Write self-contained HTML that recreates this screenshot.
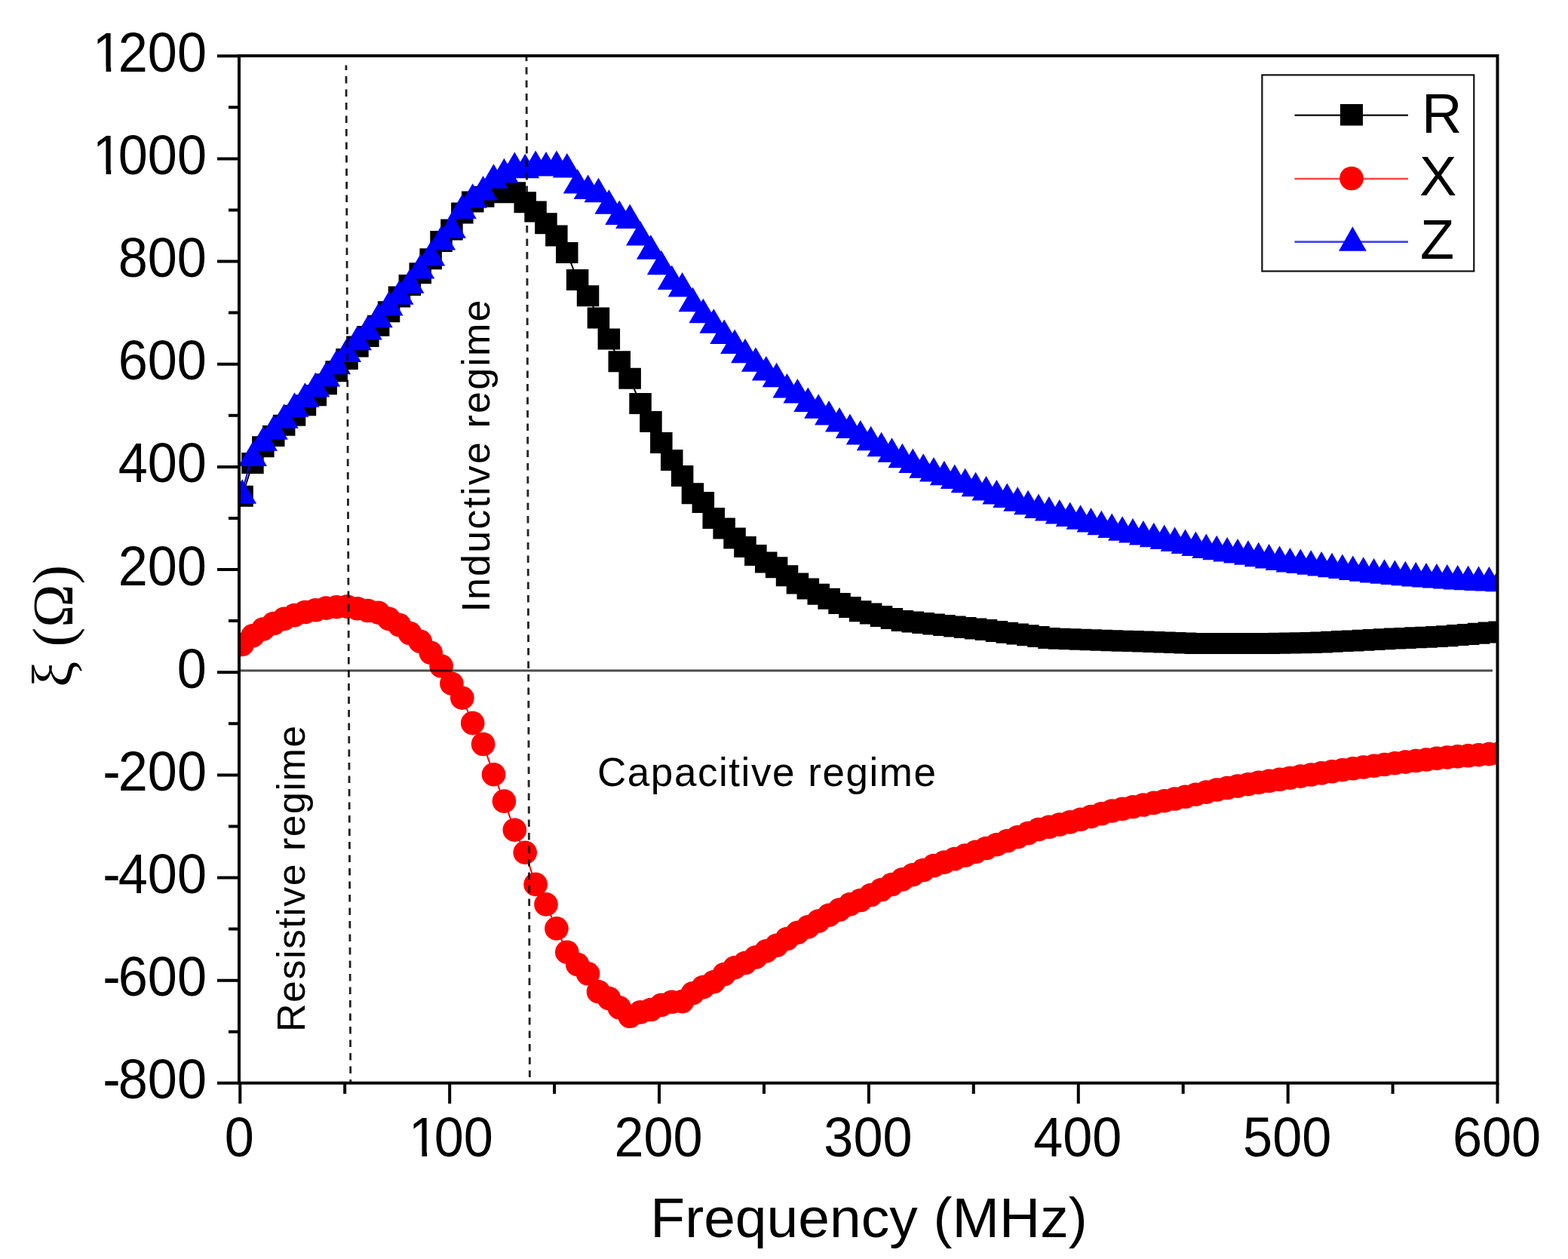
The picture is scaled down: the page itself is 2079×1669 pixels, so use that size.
<!DOCTYPE html>
<html><head><meta charset="utf-8"><title>Impedance vs Frequency</title>
<style>
html,body{margin:0;padding:0;background:#fff;}
svg{display:block;}
text{font-family:"Liberation Sans",Arial,Helvetica,sans-serif;fill:#000;}
.ser{font-family:"Liberation Serif","Times New Roman",serif;}
</style></head><body>
<svg width="2079" height="1669" viewBox="0 0 2079 1669">
<rect width="2079" height="1669" fill="#fff"/>

<defs><clipPath id="pc"><rect x="317" y="74" width="1668.5" height="1361.7"/></clipPath></defs>
<g clip-path="url(#pc)">
<polyline points="321.1,657.7 335,614.1 348.9,592.3 362.8,578 376.7,563.7 390.5,550.8 404.4,537.2 418.3,524.2 432.2,509.3 446.1,492.3 460,475.9 473.9,459.6 487.8,446 501.7,431.7 515.6,413.3 529.5,393.5 543.4,377.9 557.3,362.2 571.2,343.2 585.1,320 598.9,304.4 612.8,282.6 626.7,267.6 640.6,260.8 654.5,254.7 668.4,255.3 682.3,255.3 696.2,268.3 710.1,280.5 724,296.2 737.9,312.5 751.8,335 765.7,371.1 779.6,392.2 793.5,421.4 807.4,449.4 821.2,479.3 835.1,501.8 849,535.1 862.9,559 876.8,586.9 890.7,610 904.6,631.1 918.5,654.3 932.4,665.9 946.3,687 960.2,700.6 974.1,713.5 988,725.1 1001.9,736 1015.8,745.5 1029.6,752.3 1043.5,763.2 1057.4,773.4 1071.3,780.6 1085.2,787.7 1099.1,793.8 1113,800 1126.9,805.1 1140.8,810.2 1154.7,813.6 1168.6,817 1182.5,820.1 1196.4,823.1 1210.3,824.6 1224.2,826.1 1238,827.5 1251.9,829 1265.8,830.5 1279.7,832 1293.6,833.4 1307.5,835.1 1321.4,836.9 1335.3,838.7 1349.2,840.5 1363.1,842.3 1377,844.1 1390.9,845.9 1404.8,846.7 1418.7,847.2 1432.6,847.7 1446.5,848.2 1460.3,848.7 1474.2,849.2 1488.1,849.7 1502,850.1 1515.9,850.6 1529.8,851.1 1543.7,851.5 1557.6,852 1571.5,852.4 1585.4,852.9 1599.3,853.1 1613.2,853.1 1627.1,853.1 1641,853.1 1654.9,853.1 1668.7,853.1 1682.6,853 1696.5,852.7 1710.4,852.5 1724.3,852.2 1738.2,851.9 1752.1,851.6 1766,850.8 1779.9,850.1 1793.8,849.4 1807.7,848.7 1821.6,848 1835.5,847.2 1849.4,846.6 1863.3,845.9 1877.2,845.3 1891,844.7 1904.9,844 1918.8,843.3 1932.7,842.1 1946.6,841 1960.5,839.8 1974.4,838.6 1988.3,837.4" fill="none" stroke="#000" stroke-width="2"/>
<path d="M306.3 643.7h29.5v28h-29.5zM320.2 600.1h29.5v28h-29.5zM334.1 578.3h29.5v28h-29.5zM348 564h29.5v28h-29.5zM361.9 549.7h29.5v28h-29.5zM375.8 536.8h29.5v28h-29.5zM389.7 523.2h29.5v28h-29.5zM403.6 510.2h29.5v28h-29.5zM417.5 495.3h29.5v28h-29.5zM431.4 478.3h29.5v28h-29.5zM445.3 461.9h29.5v28h-29.5zM459.2 445.6h29.5v28h-29.5zM473.1 432h29.5v28h-29.5zM486.9 417.7h29.5v28h-29.5zM500.8 399.3h29.5v28h-29.5zM514.7 379.5h29.5v28h-29.5zM528.6 363.9h29.5v28h-29.5zM542.5 348.2h29.5v28h-29.5zM556.4 329.2h29.5v28h-29.5zM570.3 306h29.5v28h-29.5zM584.2 290.4h29.5v28h-29.5zM598.1 268.6h29.5v28h-29.5zM612 253.6h29.5v28h-29.5zM625.9 246.8h29.5v28h-29.5zM639.8 240.7h29.5v28h-29.5zM653.7 241.3h29.5v28h-29.5zM667.6 241.3h29.5v28h-29.5zM681.5 254.3h29.5v28h-29.5zM695.3 266.5h29.5v28h-29.5zM709.2 282.2h29.5v28h-29.5zM723.1 298.5h29.5v28h-29.5zM737 321h29.5v28h-29.5zM750.9 357.1h29.5v28h-29.5zM764.8 378.2h29.5v28h-29.5zM778.7 407.4h29.5v28h-29.5zM792.6 435.4h29.5v28h-29.5zM806.5 465.3h29.5v28h-29.5zM820.4 487.8h29.5v28h-29.5zM834.3 521.1h29.5v28h-29.5zM848.2 545h29.5v28h-29.5zM862.1 572.9h29.5v28h-29.5zM876 596h29.5v28h-29.5zM889.9 617.1h29.5v28h-29.5zM903.7 640.3h29.5v28h-29.5zM917.6 651.9h29.5v28h-29.5zM931.5 673h29.5v28h-29.5zM945.4 686.6h29.5v28h-29.5zM959.3 699.5h29.5v28h-29.5zM973.2 711.1h29.5v28h-29.5zM987.1 722h29.5v28h-29.5zM1001 731.5h29.5v28h-29.5zM1014.9 738.3h29.5v28h-29.5zM1028.8 749.2h29.5v28h-29.5zM1042.7 759.4h29.5v28h-29.5zM1056.6 766.6h29.5v28h-29.5zM1070.5 773.7h29.5v28h-29.5zM1084.4 779.8h29.5v28h-29.5zM1098.3 786h29.5v28h-29.5zM1112.2 791.1h29.5v28h-29.5zM1126 796.2h29.5v28h-29.5zM1139.9 799.6h29.5v28h-29.5zM1153.8 803h29.5v28h-29.5zM1167.7 806.1h29.5v28h-29.5zM1181.6 809.1h29.5v28h-29.5zM1195.5 810.6h29.5v28h-29.5zM1209.4 812.1h29.5v28h-29.5zM1223.3 813.5h29.5v28h-29.5zM1237.2 815h29.5v28h-29.5zM1251.1 816.5h29.5v28h-29.5zM1265 818h29.5v28h-29.5zM1278.9 819.4h29.5v28h-29.5zM1292.8 821.1h29.5v28h-29.5zM1306.7 822.9h29.5v28h-29.5zM1320.6 824.7h29.5v28h-29.5zM1334.4 826.5h29.5v28h-29.5zM1348.3 828.3h29.5v28h-29.5zM1362.2 830.1h29.5v28h-29.5zM1376.1 831.9h29.5v28h-29.5zM1390 832.7h29.5v28h-29.5zM1403.9 833.2h29.5v28h-29.5zM1417.8 833.7h29.5v28h-29.5zM1431.7 834.2h29.5v28h-29.5zM1445.6 834.7h29.5v28h-29.5zM1459.5 835.2h29.5v28h-29.5zM1473.4 835.7h29.5v28h-29.5zM1487.3 836.1h29.5v28h-29.5zM1501.2 836.6h29.5v28h-29.5zM1515.1 837.1h29.5v28h-29.5zM1529 837.5h29.5v28h-29.5zM1542.9 838h29.5v28h-29.5zM1556.7 838.4h29.5v28h-29.5zM1570.6 838.9h29.5v28h-29.5zM1584.5 839.1h29.5v28h-29.5zM1598.4 839.1h29.5v28h-29.5zM1612.3 839.1h29.5v28h-29.5zM1626.2 839.1h29.5v28h-29.5zM1640.1 839.1h29.5v28h-29.5zM1654 839.1h29.5v28h-29.5zM1667.9 839h29.5v28h-29.5zM1681.8 838.7h29.5v28h-29.5zM1695.7 838.5h29.5v28h-29.5zM1709.6 838.2h29.5v28h-29.5zM1723.5 837.9h29.5v28h-29.5zM1737.4 837.6h29.5v28h-29.5zM1751.3 836.8h29.5v28h-29.5zM1765.1 836.1h29.5v28h-29.5zM1779 835.4h29.5v28h-29.5zM1792.9 834.7h29.5v28h-29.5zM1806.8 834h29.5v28h-29.5zM1820.7 833.2h29.5v28h-29.5zM1834.6 832.6h29.5v28h-29.5zM1848.5 831.9h29.5v28h-29.5zM1862.4 831.3h29.5v28h-29.5zM1876.3 830.7h29.5v28h-29.5zM1890.2 830h29.5v28h-29.5zM1904.1 829.3h29.5v28h-29.5zM1918 828.1h29.5v28h-29.5zM1931.9 827h29.5v28h-29.5zM1945.8 825.8h29.5v28h-29.5zM1959.7 824.6h29.5v28h-29.5zM1973.5 823.4h29.5v28h-29.5z" fill="#000"/>
<polyline points="321.1,854.4 335,842.9 348.9,834 362.8,826.5 376.7,820.4 390.5,815.6 404.4,811.5 418.3,808.8 432.2,806.1 446.1,804.7 460,804.1 473.9,806.8 487.8,809.5 501.7,812.2 515.6,820.4 529.5,828.6 543.4,839.5 557.3,850.4 571.2,865.3 585.1,883 598.9,906.2 612.8,925.2 626.7,958.6 640.6,986.5 654.5,1026.7 668.4,1062.1 682.3,1100.2 696.2,1130.2 710.1,1172.4 724,1198.9 737.9,1230.9 751.8,1262.2 765.7,1278.6 779.6,1290.8 793.5,1314.7 807.4,1323.5 821.2,1335.8 835.1,1347.3 849,1341.9 862.9,1338.5 876.8,1332.4 890.7,1328.3 904.6,1327.6 918.5,1316.7 932.4,1308.5 946.3,1301.7 960.2,1291.5 974.1,1282.7 988,1276.5 1001.9,1269 1015.8,1260.9 1029.6,1253.4 1043.5,1244.5 1057.4,1236.4 1071.3,1228.9 1085.2,1221 1099.1,1213.2 1113,1206.1 1126.9,1198.9 1140.8,1193.5 1154.7,1186.5 1168.6,1179.5 1182.5,1172.5 1196.4,1165.9 1210.3,1159.7 1224.2,1153.5 1238,1147.6 1251.9,1143.1 1265.8,1138.6 1279.7,1134 1293.6,1129.3 1307.5,1124.5 1321.4,1119.7 1335.3,1114.8 1349.2,1109.7 1363.1,1104.6 1377,1099.5 1390.9,1096.3 1404.8,1093.1 1418.7,1089.9 1432.6,1086.4 1446.5,1082.6 1460.3,1078.8 1474.2,1075 1488.1,1072.4 1502,1069.7 1515.9,1067 1529.8,1064.4 1543.7,1061.7 1557.6,1059 1571.5,1056.3 1585.4,1053.2 1599.3,1050.1 1613.2,1047 1627.1,1044.5 1641,1042.1 1654.9,1039.7 1668.7,1037.4 1682.6,1035.3 1696.5,1033.3 1710.4,1031.2 1724.3,1029.1 1738.2,1027 1752.1,1024.9 1766,1022.8 1779.9,1020.7 1793.8,1018.8 1807.7,1017 1821.6,1015.3 1835.5,1013.5 1849.4,1011.7 1863.3,1010.1 1877.2,1008.5 1891,1007 1904.9,1005.4 1918.8,1004 1932.7,1002.9 1946.6,1001.8 1960.5,1000.7 1974.4,999.6 1988.3,998.9" fill="none" stroke="#f00" stroke-width="2"/>
<g fill="#f00"><circle cx="321.1" cy="854.4" r="15.8"/><circle cx="335" cy="842.9" r="15.8"/><circle cx="348.9" cy="834" r="15.8"/><circle cx="362.8" cy="826.5" r="15.8"/><circle cx="376.7" cy="820.4" r="15.8"/><circle cx="390.5" cy="815.6" r="15.8"/><circle cx="404.4" cy="811.5" r="15.8"/><circle cx="418.3" cy="808.8" r="15.8"/><circle cx="432.2" cy="806.1" r="15.8"/><circle cx="446.1" cy="804.7" r="15.8"/><circle cx="460" cy="804.1" r="15.8"/><circle cx="473.9" cy="806.8" r="15.8"/><circle cx="487.8" cy="809.5" r="15.8"/><circle cx="501.7" cy="812.2" r="15.8"/><circle cx="515.6" cy="820.4" r="15.8"/><circle cx="529.5" cy="828.6" r="15.8"/><circle cx="543.4" cy="839.5" r="15.8"/><circle cx="557.3" cy="850.4" r="15.8"/><circle cx="571.2" cy="865.3" r="15.8"/><circle cx="585.1" cy="883" r="15.8"/><circle cx="598.9" cy="906.2" r="15.8"/><circle cx="612.8" cy="925.2" r="15.8"/><circle cx="626.7" cy="958.6" r="15.8"/><circle cx="640.6" cy="986.5" r="15.8"/><circle cx="654.5" cy="1026.7" r="15.8"/><circle cx="668.4" cy="1062.1" r="15.8"/><circle cx="682.3" cy="1100.2" r="15.8"/><circle cx="696.2" cy="1130.2" r="15.8"/><circle cx="710.1" cy="1172.4" r="15.8"/><circle cx="724" cy="1198.9" r="15.8"/><circle cx="737.9" cy="1230.9" r="15.8"/><circle cx="751.8" cy="1262.2" r="15.8"/><circle cx="765.7" cy="1278.6" r="15.8"/><circle cx="779.6" cy="1290.8" r="15.8"/><circle cx="793.5" cy="1314.7" r="15.8"/><circle cx="807.4" cy="1323.5" r="15.8"/><circle cx="821.2" cy="1335.8" r="15.8"/><circle cx="835.1" cy="1347.3" r="15.8"/><circle cx="849" cy="1341.9" r="15.8"/><circle cx="862.9" cy="1338.5" r="15.8"/><circle cx="876.8" cy="1332.4" r="15.8"/><circle cx="890.7" cy="1328.3" r="15.8"/><circle cx="904.6" cy="1327.6" r="15.8"/><circle cx="918.5" cy="1316.7" r="15.8"/><circle cx="932.4" cy="1308.5" r="15.8"/><circle cx="946.3" cy="1301.7" r="15.8"/><circle cx="960.2" cy="1291.5" r="15.8"/><circle cx="974.1" cy="1282.7" r="15.8"/><circle cx="988" cy="1276.5" r="15.8"/><circle cx="1001.9" cy="1269" r="15.8"/><circle cx="1015.8" cy="1260.9" r="15.8"/><circle cx="1029.6" cy="1253.4" r="15.8"/><circle cx="1043.5" cy="1244.5" r="15.8"/><circle cx="1057.4" cy="1236.4" r="15.8"/><circle cx="1071.3" cy="1228.9" r="15.8"/><circle cx="1085.2" cy="1221" r="15.8"/><circle cx="1099.1" cy="1213.2" r="15.8"/><circle cx="1113" cy="1206.1" r="15.8"/><circle cx="1126.9" cy="1198.9" r="15.8"/><circle cx="1140.8" cy="1193.5" r="15.8"/><circle cx="1154.7" cy="1186.5" r="15.8"/><circle cx="1168.6" cy="1179.5" r="15.8"/><circle cx="1182.5" cy="1172.5" r="15.8"/><circle cx="1196.4" cy="1165.9" r="15.8"/><circle cx="1210.3" cy="1159.7" r="15.8"/><circle cx="1224.2" cy="1153.5" r="15.8"/><circle cx="1238" cy="1147.6" r="15.8"/><circle cx="1251.9" cy="1143.1" r="15.8"/><circle cx="1265.8" cy="1138.6" r="15.8"/><circle cx="1279.7" cy="1134" r="15.8"/><circle cx="1293.6" cy="1129.3" r="15.8"/><circle cx="1307.5" cy="1124.5" r="15.8"/><circle cx="1321.4" cy="1119.7" r="15.8"/><circle cx="1335.3" cy="1114.8" r="15.8"/><circle cx="1349.2" cy="1109.7" r="15.8"/><circle cx="1363.1" cy="1104.6" r="15.8"/><circle cx="1377" cy="1099.5" r="15.8"/><circle cx="1390.9" cy="1096.3" r="15.8"/><circle cx="1404.8" cy="1093.1" r="15.8"/><circle cx="1418.7" cy="1089.9" r="15.8"/><circle cx="1432.6" cy="1086.4" r="15.8"/><circle cx="1446.5" cy="1082.6" r="15.8"/><circle cx="1460.3" cy="1078.8" r="15.8"/><circle cx="1474.2" cy="1075" r="15.8"/><circle cx="1488.1" cy="1072.4" r="15.8"/><circle cx="1502" cy="1069.7" r="15.8"/><circle cx="1515.9" cy="1067" r="15.8"/><circle cx="1529.8" cy="1064.4" r="15.8"/><circle cx="1543.7" cy="1061.7" r="15.8"/><circle cx="1557.6" cy="1059" r="15.8"/><circle cx="1571.5" cy="1056.3" r="15.8"/><circle cx="1585.4" cy="1053.2" r="15.8"/><circle cx="1599.3" cy="1050.1" r="15.8"/><circle cx="1613.2" cy="1047" r="15.8"/><circle cx="1627.1" cy="1044.5" r="15.8"/><circle cx="1641" cy="1042.1" r="15.8"/><circle cx="1654.9" cy="1039.7" r="15.8"/><circle cx="1668.7" cy="1037.4" r="15.8"/><circle cx="1682.6" cy="1035.3" r="15.8"/><circle cx="1696.5" cy="1033.3" r="15.8"/><circle cx="1710.4" cy="1031.2" r="15.8"/><circle cx="1724.3" cy="1029.1" r="15.8"/><circle cx="1738.2" cy="1027" r="15.8"/><circle cx="1752.1" cy="1024.9" r="15.8"/><circle cx="1766" cy="1022.8" r="15.8"/><circle cx="1779.9" cy="1020.7" r="15.8"/><circle cx="1793.8" cy="1018.8" r="15.8"/><circle cx="1807.7" cy="1017" r="15.8"/><circle cx="1821.6" cy="1015.3" r="15.8"/><circle cx="1835.5" cy="1013.5" r="15.8"/><circle cx="1849.4" cy="1011.7" r="15.8"/><circle cx="1863.3" cy="1010.1" r="15.8"/><circle cx="1877.2" cy="1008.5" r="15.8"/><circle cx="1891" cy="1007" r="15.8"/><circle cx="1904.9" cy="1005.4" r="15.8"/><circle cx="1918.8" cy="1004" r="15.8"/><circle cx="1932.7" cy="1002.9" r="15.8"/><circle cx="1946.6" cy="1001.8" r="15.8"/><circle cx="1960.5" cy="1000.7" r="15.8"/><circle cx="1974.4" cy="999.6" r="15.8"/><circle cx="1988.3" cy="998.9" r="15.8"/></g>
<polyline points="321.1,651.6 335,601.9 348.9,581.4 362.8,566.5 376.7,551.5 390.5,536.5 404.4,523.6 418.3,510 432.2,496.3 446.1,480 460,463.7 473.9,448 487.8,434.4 501.7,418 515.6,402.4 529.5,387.4 543.4,372.4 557.3,353.4 571.2,336.3 585.1,315.2 598.9,299.6 612.8,273.7 626.7,259.4 640.6,249.2 654.5,233.5 668.4,226.1 682.3,217.9 696.2,219.9 710.1,215.8 724,217.2 737.9,215.8 751.8,219.3 765.7,240.4 779.6,247.8 793.5,251.9 807.4,267.6 821.2,281.9 835.1,286.6 849,309.1 862.9,327.5 876.8,347.9 890.7,367.7 904.6,377.2 918.5,396.9 932.4,411.9 946.3,425.5 960.2,439.8 974.1,452.8 988,465 1001.9,476.6 1015.8,488.2 1029.6,497 1043.5,511.3 1057.4,518.1 1071.3,529.7 1085.2,538.5 1099.1,547.4 1113,556.2 1126.9,564.8 1140.8,573.3 1154.7,581.1 1168.6,588.9 1182.5,596.4 1196.4,603.9 1210.3,610.7 1224.2,617.5 1238,622.3 1251.9,627 1265.8,631.8 1279.7,636.9 1293.6,642 1307.5,647.1 1321.4,652.2 1335.3,656.8 1349.2,661.4 1363.1,666 1377,670.6 1390.9,674.4 1404.8,678.1 1418.7,681.9 1432.6,685.6 1446.5,689.3 1460.3,693.1 1474.2,696.8 1488.1,700.6 1502,703.4 1515.9,706.2 1529.8,709 1543.7,711.8 1557.6,714.8 1571.5,717.8 1585.4,720.7 1599.3,723.7 1613.2,725.9 1627.1,728.1 1641,730.4 1654.9,732.6 1668.7,735 1682.6,737.3 1696.5,739.7 1710.4,742.1 1724.3,743.8 1738.2,745.5 1752.1,747.2 1766,748.9 1779.9,750.8 1793.8,752.6 1807.7,754.5 1821.6,756.2 1835.5,757.5 1849.4,758.7 1863.3,759.9 1877.2,761.1 1891,762.1 1904.9,763.2 1918.8,764.2 1932.7,765.3 1946.6,765.9 1960.5,766.6 1974.4,767.3 1988.3,768" fill="none" stroke="#00f" stroke-width="2"/>
<path d="M321.1 635.3l19.0 32.5h-38zM335 585.6l19.0 32.5h-38zM348.9 565.2l19.0 32.5h-38zM362.8 550.2l19.0 32.5h-38zM376.7 535.2l19.0 32.5h-38zM390.5 520.3l19.0 32.5h-38zM404.4 507.3l19.0 32.5h-38zM418.3 493.7l19.0 32.5h-38zM432.2 480.1l19.0 32.5h-38zM446.1 463.7l19.0 32.5h-38zM460 447.4l19.0 32.5h-38zM473.9 431.7l19.0 32.5h-38zM487.8 418.1l19.0 32.5h-38zM501.7 401.8l19.0 32.5h-38zM515.6 386.1l19.0 32.5h-38zM529.5 371.2l19.0 32.5h-38zM543.4 356.2l19.0 32.5h-38zM557.3 337.1l19.0 32.5h-38zM571.2 320.1l19.0 32.5h-38zM585.1 299l19.0 32.5h-38zM598.9 283.3l19.0 32.5h-38zM612.8 257.5l19.0 32.5h-38zM626.7 243.2l19.0 32.5h-38zM640.6 233l19.0 32.5h-38zM654.5 217.3l19.0 32.5h-38zM668.4 209.8l19.0 32.5h-38zM682.3 201.6l19.0 32.5h-38zM696.2 203.7l19.0 32.5h-38zM710.1 199.6l19.0 32.5h-38zM724 201l19.0 32.5h-38zM737.9 199.6l19.0 32.5h-38zM751.8 203l19.0 32.5h-38zM765.7 224.1l19.0 32.5h-38zM779.6 231.6l19.0 32.5h-38zM793.5 235.7l19.0 32.5h-38zM807.4 251.3l19.0 32.5h-38zM821.2 265.6l19.0 32.5h-38zM835.1 270.4l19.0 32.5h-38zM849 292.9l19.0 32.5h-38zM862.9 311.2l19.0 32.5h-38zM876.8 331.7l19.0 32.5h-38zM890.7 351.4l19.0 32.5h-38zM904.6 360.9l19.0 32.5h-38zM918.5 380.7l19.0 32.5h-38zM932.4 395.7l19.0 32.5h-38zM946.3 409.3l19.0 32.5h-38zM960.2 423.6l19.0 32.5h-38zM974.1 436.5l19.0 32.5h-38zM988 448.8l19.0 32.5h-38zM1001.9 460.3l19.0 32.5h-38zM1015.8 471.9l19.0 32.5h-38zM1029.6 480.8l19.0 32.5h-38zM1043.5 495.1l19.0 32.5h-38zM1057.4 501.9l19.0 32.5h-38zM1071.3 513.4l19.0 32.5h-38zM1085.2 522.3l19.0 32.5h-38zM1099.1 531.1l19.0 32.5h-38zM1113 540l19.0 32.5h-38zM1126.9 548.5l19.0 32.5h-38zM1140.8 557l19.0 32.5h-38zM1154.7 564.8l19.0 32.5h-38zM1168.6 572.7l19.0 32.5h-38zM1182.5 580.2l19.0 32.5h-38zM1196.4 587.7l19.0 32.5h-38zM1210.3 594.5l19.0 32.5h-38zM1224.2 601.3l19.0 32.5h-38zM1238 606l19.0 32.5h-38zM1251.9 610.8l19.0 32.5h-38zM1265.8 615.6l19.0 32.5h-38zM1279.7 620.7l19.0 32.5h-38zM1293.6 625.8l19.0 32.5h-38zM1307.5 630.9l19.0 32.5h-38zM1321.4 636l19.0 32.5h-38zM1335.3 640.6l19.0 32.5h-38zM1349.2 645.2l19.0 32.5h-38zM1363.1 649.8l19.0 32.5h-38zM1377 654.4l19.0 32.5h-38zM1390.9 658.1l19.0 32.5h-38zM1404.8 661.9l19.0 32.5h-38zM1418.7 665.6l19.0 32.5h-38zM1432.6 669.3l19.0 32.5h-38zM1446.5 673.1l19.0 32.5h-38zM1460.3 676.8l19.0 32.5h-38zM1474.2 680.6l19.0 32.5h-38zM1488.1 684.3l19.0 32.5h-38zM1502 687.1l19.0 32.5h-38zM1515.9 689.9l19.0 32.5h-38zM1529.8 692.8l19.0 32.5h-38zM1543.7 695.6l19.0 32.5h-38zM1557.6 698.5l19.0 32.5h-38zM1571.5 701.5l19.0 32.5h-38zM1585.4 704.5l19.0 32.5h-38zM1599.3 707.5l19.0 32.5h-38zM1613.2 709.7l19.0 32.5h-38zM1627.1 711.9l19.0 32.5h-38zM1641 714.1l19.0 32.5h-38zM1654.9 716.3l19.0 32.5h-38zM1668.7 718.7l19.0 32.5h-38zM1682.6 721.1l19.0 32.5h-38zM1696.5 723.5l19.0 32.5h-38zM1710.4 725.9l19.0 32.5h-38zM1724.3 727.6l19.0 32.5h-38zM1738.2 729.3l19.0 32.5h-38zM1752.1 731l19.0 32.5h-38zM1766 732.7l19.0 32.5h-38zM1779.9 734.5l19.0 32.5h-38zM1793.8 736.4l19.0 32.5h-38zM1807.7 738.3l19.0 32.5h-38zM1821.6 740l19.0 32.5h-38zM1835.5 741.2l19.0 32.5h-38zM1849.4 742.4l19.0 32.5h-38zM1863.3 743.7l19.0 32.5h-38zM1877.2 744.9l19.0 32.5h-38zM1891 745.9l19.0 32.5h-38zM1904.9 746.9l19.0 32.5h-38zM1918.8 748l19.0 32.5h-38zM1932.7 749l19.0 32.5h-38zM1946.6 749.7l19.0 32.5h-38zM1960.5 750.4l19.0 32.5h-38zM1974.4 751l19.0 32.5h-38zM1988.3 751.7l19.0 32.5h-38z" fill="#00f"/>
<line x1="458.9" y1="86.6" x2="464.8" y2="1440" stroke="#000" stroke-opacity="0.88" stroke-width="2.8" stroke-dasharray="9.5 8" stroke-dashoffset="3.1"/>
<line x1="698" y1="71.6" x2="702.4" y2="1428" stroke="#000" stroke-opacity="0.85" stroke-width="2.9" stroke-dasharray="9.5 8"/>
</g>
<line x1="318" y1="889" x2="1979" y2="889" stroke="#000" stroke-opacity="0.7" stroke-width="3.2"/>
<rect x="317" y="74" width="1668.5" height="1361.7" fill="none" stroke="#000" stroke-width="4"/>
<path d="M288 1435.8H317 M288 1299.7H317 M288 1163.5H317 M288 1027.4H317 M288 891.2H317 M288 755H317 M288 618.9H317 M288 482.7H317 M288 346.6H317 M288 210.4H317 M288 74.2H317 M303 1367.8H317 M303 1231.6H317 M303 1095.4H317 M303 959.3H317 M303 823.1H317 M303 687H317 M303 550.8H317 M303 414.6H317 M303 278.5H317 M303 142.3H317 M318.3 1435.7V1463 M596.2 1435.7V1463 M874 1435.7V1463 M1151.9 1435.7V1463 M1429.8 1435.7V1463 M1707.7 1435.7V1463 M1985.5 1435.7V1463 M457.2 1435.7V1450 M735.1 1435.7V1450 M1013 1435.7V1450 M1290.8 1435.7V1450 M1568.7 1435.7V1450 M1846.6 1435.7V1450" stroke="#000" stroke-width="4" fill="none"/>
<g font-size="74"><text transform="translate(274 1456.3) scale(0.95 1)" x="-148.1"><tspan dx="3.2">-</tspan><tspan dx="-3.2">800</tspan></text><text transform="translate(274 1320.2) scale(0.95 1)" x="-148.1"><tspan dx="3.2">-</tspan><tspan dx="-3.2">600</tspan></text><text transform="translate(274 1184) scale(0.95 1)" x="-148.1"><tspan dx="3.2">-</tspan><tspan dx="-3.2">400</tspan></text><text transform="translate(274 1047.9) scale(0.95 1)" x="-148.1"><tspan dx="3.2">-</tspan><tspan dx="-3.2">200</tspan></text><text transform="translate(274 911.7) scale(0.95 1)" x="-41.2">0</text><text transform="translate(274 775.5) scale(0.95 1)" x="-123.5">200</text><text transform="translate(274 639.4) scale(0.95 1)" x="-123.5">400</text><text transform="translate(274 503.2) scale(0.95 1)" x="-123.5">600</text><text transform="translate(274 367.1) scale(0.95 1)" x="-123.5">800</text><text transform="translate(274 230.9) scale(0.95 1)" x="-164.6"><tspan dx="5.5">1</tspan><tspan dx="-5.5">000</tspan></text><text transform="translate(274 94.7) scale(0.95 1)" x="-164.6"><tspan dx="5.5">1</tspan><tspan dx="-5.5">200</tspan></text><text transform="translate(317.3 1532.5) scale(0.95 1)" x="-20.6">0</text><text transform="translate(595.2 1532.5) scale(0.95 1)" x="-61.7"><tspan dx="5.5">1</tspan><tspan dx="-5.5">00</tspan></text><text transform="translate(873 1532.5) scale(0.95 1)" x="-61.7">200</text><text transform="translate(1150.9 1532.5) scale(0.95 1)" x="-61.7">300</text><text transform="translate(1428.8 1532.5) scale(0.95 1)" x="-61.7">400</text><text transform="translate(1706.7 1532.5) scale(0.95 1)" x="-61.7">500</text><text transform="translate(1984.5 1532.5) scale(0.95 1)" x="-61.7">600</text></g>
<g fill="#fff"><rect x="127.9" y="88.5" width="12.7" height="7.2"/><rect x="147.2" y="88.5" width="12.6" height="7.2"/><rect x="127.9" y="224.7" width="12.7" height="7.2"/><rect x="147.2" y="224.7" width="12.6" height="7.2"/><rect x="546.8" y="1526.3" width="12.7" height="7.2"/><rect x="566.1" y="1526.3" width="12.6" height="7.2"/></g>
<text x="1152" y="1640" font-size="75" text-anchor="middle">Frequency (MHz)</text>
<text class="ser" transform="translate(96,830) rotate(-90)" font-size="77" text-anchor="middle">ξ (Ω)</text>
<text transform="translate(649,811.6) rotate(-90)" font-size="52" textLength="414" lengthAdjust="spacing">Inductive regime</text>
<text transform="translate(404.4,1367.9) rotate(-90)" font-size="52" textLength="406" lengthAdjust="spacing">Resistive regime</text>
<text x="792" y="1041.5" font-size="53" textLength="449" lengthAdjust="spacing">Capacitive regime</text>
<rect x="1673.4" y="99.4" width="280.9" height="260.1" fill="none" stroke="#111" stroke-width="2.2"/>
<line x1="1716.5" y1="152.8" x2="1867" y2="152.8" stroke="#222" stroke-width="2.6"/>
<rect x="1777" y="138" width="30" height="28.5" fill="#000"/>
<line x1="1716.5" y1="237" x2="1867" y2="237" stroke="#f44" stroke-width="2.6"/>
<circle cx="1792" cy="236.5" r="15.8" fill="#f00"/>
<line x1="1716.5" y1="320.6" x2="1867" y2="320.6" stroke="#44f" stroke-width="2.6"/>
<path d="M1793.4 300.3L1811.8 332.7H1775z" fill="#00f"/>
<g font-size="74"><text x="1885" y="176">R</text><text x="1882" y="258.5">X</text><text x="1883" y="342.5">Z</text></g>
</svg>
</body></html>
